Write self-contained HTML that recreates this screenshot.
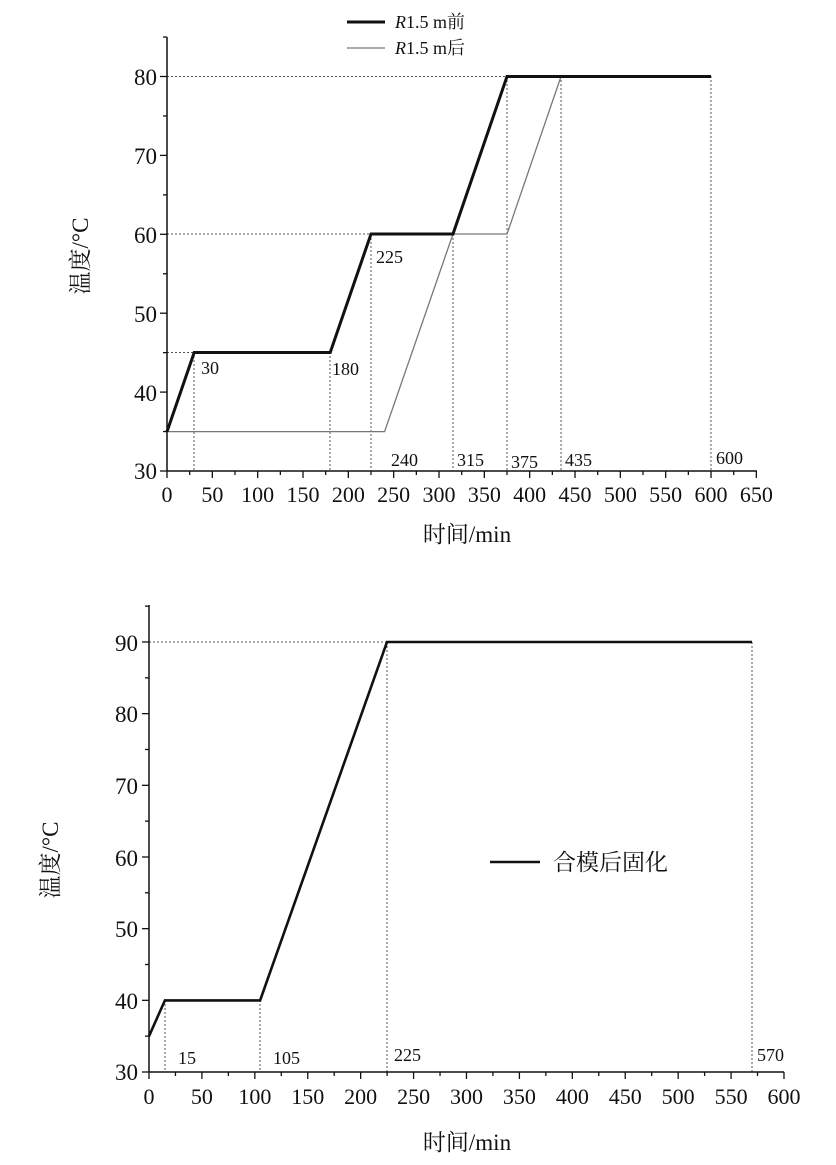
<!DOCTYPE html>
<html><head><meta charset="utf-8">
<style>
html,body{margin:0;padding:0;background:#fff;}
svg{display:block;}
text{font-family:"Liberation Serif","Noto Serif CJK SC",serif;fill:#111;}
.cj{font-family:"Liberation Serif","Noto Serif CJK SC",serif;}
</style></head>
<body>
<svg width="836" height="1165" viewBox="0 0 836 1165" xmlns="http://www.w3.org/2000/svg">
<g id="top">
<g stroke="#555" stroke-width="1" stroke-dasharray="2,2" fill="none">
<line x1="167" y1="76.5" x2="507" y2="76.5"/>
<line x1="167" y1="234" x2="371" y2="234"/>
<line x1="167" y1="352.5" x2="194" y2="352.5"/>
<line x1="194" y1="352" x2="194" y2="470"/>
<line x1="330" y1="352" x2="330" y2="470"/>
<line x1="371" y1="234" x2="371" y2="470"/>
<line x1="453" y1="234" x2="453" y2="470"/>
<line x1="507" y1="76" x2="507" y2="470"/>
<line x1="561" y1="76" x2="561" y2="470"/>
<line x1="711" y1="76" x2="711" y2="470"/>
</g>
<polyline fill="none" stroke="#777" stroke-width="1.3" points="167,431.6 384.6,431.6 453,234 507,234 561,76.5 711,76.5"/>
<polyline fill="none" stroke="#111" stroke-width="3" stroke-linejoin="miter" points="167,431.6 194.2,352.5 330.2,352.5 371,234 453,234 507,76.5 711,76.5"/>
<g stroke="#111" stroke-width="1.5">
<line x1="167" y1="37" x2="167" y2="471"/>
<line x1="167" y1="471" x2="757" y2="471"/>
</g>
<g stroke="#111" stroke-width="1.3" id="ty"></g>
<g font-size="23" text-anchor="end">
<text x="157" y="479">30</text><text x="157" y="401">40</text><text x="157" y="322">50</text>
<text x="157" y="243">60</text><text x="157" y="164">70</text><text x="157" y="85">80</text>
</g>
<g font-size="22" text-anchor="middle" id="txl"></g>
<g font-size="18">
<text x="201" y="374">30</text><text x="332" y="375">180</text><text x="376" y="263">225</text>
<text x="391" y="466">240</text><text x="457" y="466">315</text><text x="511" y="468">375</text>
<text x="565" y="466">435</text><text x="716" y="464">600</text>
</g>
<text class="cj" x="467" y="542" font-size="23" text-anchor="middle">时间/min</text>
<text class="cj" font-size="23" text-anchor="middle" transform="translate(88,256) rotate(-90)">温度/°C</text>
<line x1="347" y1="22" x2="385" y2="22" stroke="#111" stroke-width="3"/>
<line x1="347" y1="48" x2="385" y2="48" stroke="#777" stroke-width="1.3"/>
<text class="cj" x="395" y="28" font-size="18"><tspan font-style="italic">R</tspan>1.5 m前</text>
<text class="cj" x="395" y="54" font-size="18"><tspan font-style="italic">R</tspan>1.5 m后</text>
</g>

<g id="bot">
<g stroke="#555" stroke-width="1" stroke-dasharray="2,2" fill="none">
<line x1="149" y1="642" x2="387" y2="642"/>
<line x1="165" y1="1000" x2="165" y2="1072"/>
<line x1="260" y1="1000" x2="260" y2="1072"/>
<line x1="387" y1="642" x2="387" y2="1072"/>
<line x1="752" y1="642" x2="752" y2="1072"/>
</g>
<polyline fill="none" stroke="#111" stroke-width="2.6" points="149,1036.2 164.9,1000.4 260.1,1000.4 387,642 752,642"/>
<g stroke="#111" stroke-width="1.5">
<line x1="149" y1="605" x2="149" y2="1072"/>
<line x1="149" y1="1072" x2="784" y2="1072"/>
</g>
<g stroke="#111" stroke-width="1.3" id="by"></g>
<g font-size="23" text-anchor="end">
<text x="138" y="1080">30</text><text x="138" y="1009">40</text><text x="138" y="937">50</text>
<text x="138" y="866">60</text><text x="138" y="794">70</text><text x="138" y="722">80</text><text x="138" y="651">90</text>
</g>
<g font-size="22" text-anchor="middle" id="bxl"></g>
<g font-size="18">
<text x="178" y="1064">15</text><text x="273" y="1064">105</text><text x="394" y="1061">225</text><text x="757" y="1061">570</text>
</g>
<line x1="490" y1="862" x2="540" y2="862" stroke="#111" stroke-width="2.6"/>
<text class="cj" x="553" y="870" font-size="23">合模后固化</text>
<text class="cj" x="467" y="1150" font-size="23" text-anchor="middle">时间/min</text>
<text class="cj" font-size="23" text-anchor="middle" transform="translate(58,860) rotate(-90)">温度/°C</text>
</g>
</svg>
<script>
var NS="http://www.w3.org/2000/svg";
function L(g,x1,y1,x2,y2){var l=document.createElementNS(NS,"line");l.setAttribute("x1",x1);l.setAttribute("y1",y1);l.setAttribute("x2",x2);l.setAttribute("y2",y2);g.appendChild(l);}
function T(g,x,y,s){var t=document.createElementNS(NS,"text");t.setAttribute("x",x);t.setAttribute("y",y);t.textContent=s;g.appendChild(t);}
var ty=document.getElementById("ty"),txl=document.getElementById("txl");
for(var v=30;v<=85;v+=5){var y=471-(v-30)*7.89;L(ty,167,y,v%10==0?160:163,y);}
for(var x=0;x<=650;x+=25){var px=167+x*0.9067;L(ty,px,471,px,x%50==0?478:475);if(x%50==0)T(txl,px,502,x);}
var by=document.getElementById("by"),bxl=document.getElementById("bxl");
for(var v=30;v<=95;v+=5){var y=1072-(v-30)*7.167;L(by,149,y,v%10==0?142:145,y);}
for(var x=0;x<=600;x+=25){var px=149+x*1.0583;L(by,px,1072,px,x%50==0?1079:1076);if(x%50==0)T(bxl,px,1104,x);}
</script>
</body></html>
